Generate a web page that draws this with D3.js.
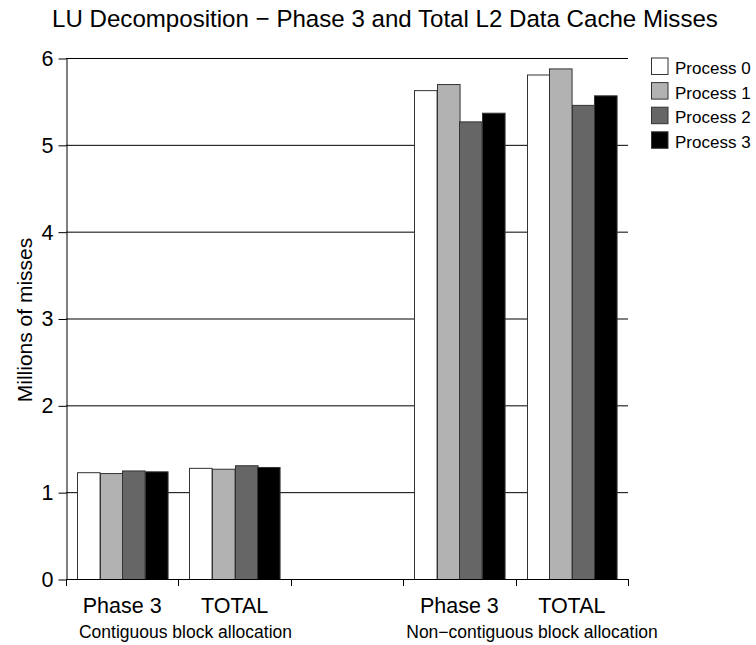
<!DOCTYPE html>
<html>
<head>
<meta charset="utf-8">
<script src="https://cdn.jsdelivr.net/npm/d3@7"></script>
<style>
  html, body { margin: 0; padding: 0; background: #fff; }
  svg { display: block; font-family: "Liberation Sans", Arial, Helvetica, sans-serif; }
</style>
</head>
<body>
<svg id="chart" width="756" height="645"></svg>
<script>
// Category slots along the x axis (the empty slot separates the two allocation groups)
const slotLabels = ["Phase 3", "TOTAL", "", "Phase 3", "TOTAL"];
const barSlots = [0, 1, 3, 4];
const groupLabels = ["Contiguous block allocation", "Non\u2212contiguous block allocation"];
const processNames = ["Process 0", "Process 1", "Process 2", "Process 3"];
const processColors = ["#ffffff", "#b2b2b2", "#666666", "#000000"];

// Millions of L2 data cache misses, one entry per bar slot
const process0 = [1.23, 1.28, 5.63, 5.81];
const process1 = [1.22, 1.27, 5.70, 5.88];
const process2 = [1.25, 1.31, 5.27, 5.46];
const process3 = [1.24, 1.29, 5.37, 5.57];
const seriesValues = [process0, process1, process2, process3];

const yTicks = [0, 1, 2, 3, 4, 5, 6];

const svg = d3.select("#chart");
const plot = { left: 66, right: 628, top: 58, bottom: 579 };

const x = d3.scaleBand()
  .domain(d3.range(slotLabels.length))
  .range([plot.left, plot.right])
  .paddingInner(0).paddingOuter(0);

const inner = d3.scaleBand()
  .domain(d3.range(processNames.length))
  .range([0, x.bandwidth()])
  .paddingOuter(0.49)
  .paddingInner(0);

const y = d3.scaleLinear().domain([0, 6]).range([plot.bottom, plot.top]);

// Horizontal grid lines behind the bars
svg.append("g")
  .selectAll("line")
  .data(yTicks.filter(d => d > 0))
  .join("line")
  .attr("x1", plot.left).attr("x2", plot.right)
  .attr("y1", d => y(d) + 0.5).attr("y2", d => y(d) + 0.5)
  .attr("stroke", "#000").attr("stroke-width", 1);

// Bars
const barData = [];
seriesValues.forEach((vals, p) => {
  vals.forEach((v, i) => barData.push({ slot: barSlots[i], p, v }));
});
svg.append("g")
  .selectAll("rect")
  .data(barData)
  .join("rect")
  .attr("x", d => Math.round(x(d.slot) + inner(d.p)) + 0.5)
  .attr("width", inner.bandwidth())
  .attr("y", d => y(d.v) + 0.5)
  .attr("height", d => y(0) - y(d.v))
  .attr("fill", d => processColors[d.p])
  .attr("stroke", "#333")
  .attr("stroke-width", 1);

// Y axis
const yAxis = svg.append("g")
  .attr("transform", `translate(${plot.left + 0.5},0.5)`)
  .call(d3.axisLeft(y).tickValues(yTicks).tickFormat(d3.format("d"))
    .tickSize(8).tickSizeOuter(0).tickPadding(5));
yAxis.select(".domain").attr("stroke", "#000");
yAxis.selectAll("line").attr("stroke", "#000");
yAxis.selectAll("text").attr("font-size", 21.5).attr("fill", "#000")
  .attr("font-family", "Liberation Sans, Arial, sans-serif");

// X axis: tick marks at slot boundaries, labels under bar slots
const boundaries = d3.range(slotLabels.length + 1).map(i => plot.left + i * x.bandwidth());
const xAxis = svg.append("g");
xAxis.append("line")
  .attr("x1", plot.left).attr("x2", plot.right)
  .attr("y1", plot.bottom + 0.5).attr("y2", plot.bottom + 0.5)
  .attr("stroke", "#000");
xAxis.selectAll("line.tick")
  .data(boundaries)
  .join("line")
  .attr("class", "tick")
  .attr("x1", d => Math.round(d) + 0.5).attr("x2", d => Math.round(d) + 0.5)
  .attr("y1", plot.bottom).attr("y2", plot.bottom + 7)
  .attr("stroke", "#000");
xAxis.selectAll("text")
  .data(slotLabels.map((s, i) => ({ s, i })).filter(d => d.s))
  .join("text")
  .attr("x", d => x(d.i) + x.bandwidth() / 2)
  .attr("y", 613)
  .attr("text-anchor", "middle")
  .attr("font-size", 21.5)
  .text(d => d.s);

// Group labels
const groupX = [185.5, 532];
svg.selectAll("text.group")
  .data(groupLabels)
  .join("text")
  .attr("class", "group")
  .attr("x", (d, i) => groupX[i])
  .attr("y", 638)
  .attr("text-anchor", "middle")
  .attr("font-size", 17.5)
  .text(d => d);

// Title
svg.append("text")
  .attr("x", 385).attr("y", 27)
  .attr("text-anchor", "middle")
  .attr("font-size", 24.1)
  .text("LU Decomposition \u2212 Phase 3 and Total L2 Data Cache Misses");

// Y axis title
svg.append("text")
  .attr("transform", `translate(32,320) rotate(-90)`)
  .attr("text-anchor", "middle")
  .attr("font-size", 21)
  .text("Millions of misses");

// Legend
const legend = svg.append("g").attr("transform", "translate(651,57.5)");
const rows = legend.selectAll("g")
  .data(processNames)
  .join("g")
  .attr("transform", (d, i) => `translate(0,${i * 24.6})`);
rows.append("rect")
  .attr("x", 0.5).attr("y", 0.5)
  .attr("width", 16.5).attr("height", 16.5)
  .attr("fill", (d, i) => processColors[i])
  .attr("stroke", "#333");
rows.append("text")
  .attr("x", 24).attr("y", 16.5)
  .attr("font-size", 17)
  .text(d => d);
</script>
</body>
</html>
